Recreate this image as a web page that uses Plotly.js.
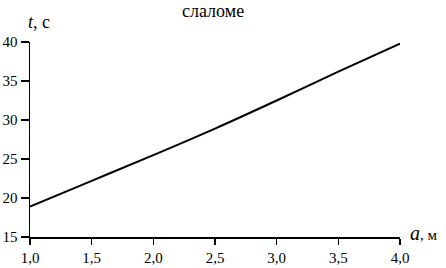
<!DOCTYPE html>
<html>
<head>
<meta charset="utf-8">
<script src="https://cdn.plot.ly/plotly-3.0.1.min.js"></script>
<style>html,body{margin:0;padding:0;background:#fff;}#chart{width:446px;height:268px;}</style>
</head>
<body>
<div id="chart"></div>
<script>
const aValues = [1.0, 1.5, 2.0, 2.5, 3.0, 3.5, 4.0];
const tValues = [18.9, 22.2, 25.5, 28.9, 32.5, 36.2, 39.8];
const xTicks = [1.0, 1.5, 2.0, 2.5, 3.0, 3.5, 4.0];
const yTicks = [15, 20, 25, 30, 35, 40];
const titleText = "слаломе";
const xLabel = "<i>a</i><span style=\"font-size:15px\">, м</span>";
const yLabel = "<i>t</i>, с";

const font = "Times New Roman, Liberation Serif, serif";
const W = 446, H = 268, L = 30, R = 46, T = 42, B = 31;
const ph = H - T - B, pw = W - L - R;
function py(pix){ return (H - B - pix) / ph; }
function px(pix){ return (pix - L) / pw; }

Plotly.newPlot('chart', [{
  x: aValues, y: tValues, type: 'scatter', mode: 'lines',
  line: {color: '#000', width: 2, shape: 'spline'}, hoverinfo: 'none'
}], {
  width: W, height: H,
  margin: {l: L, r: R, t: T, b: B, pad: 0},
  paper_bgcolor: '#fff', plot_bgcolor: '#fff',
  separators: ',.',
  showlegend: false,
  font: {family: font, size: 14, color: '#000'},
  xaxis: {
    range: [1, 4], tickvals: xTicks, tickformat: '.1f',
    showline: true, linecolor: '#000', linewidth: 1.5,
    ticks: 'outside', ticklen: 6, tickwidth: 1.5, tickcolor: '#000',
    showgrid: false, zeroline: false, fixedrange: true,
    tickfont: {family: font, size: 15, color: '#000'}
  },
  yaxis: {
    range: [15, 40], tickvals: yTicks,
    showline: true, linecolor: '#000', linewidth: 1.5,
    ticks: 'outside', ticklen: 8, tickwidth: 1.5, tickcolor: '#000',
    showgrid: false, zeroline: false, fixedrange: true,
    tickfont: {family: font, size: 15, color: '#000'}
  },
  annotations: [
    {text: titleText, xref: 'paper', yref: 'paper', x: px(213), y: py(0),
     xanchor: 'center', yanchor: 'top', showarrow: false, borderpad: 0,
     font: {family: font, size: 18, color: '#000'}},
    {text: yLabel, xref: 'paper', yref: 'paper', x: px(26), y: py(22),
     xanchor: 'left', yanchor: 'middle', showarrow: false,
     font: {family: font, size: 18, color: '#000'}},
    {text: xLabel, xref: 'paper', yref: 'paper', x: px(408), y: py(233),
     xanchor: 'left', yanchor: 'middle', showarrow: false,
     font: {family: font, size: 20, color: '#000'}}
  ]
}, {staticPlot: true});
</script>
</body>
</html>
